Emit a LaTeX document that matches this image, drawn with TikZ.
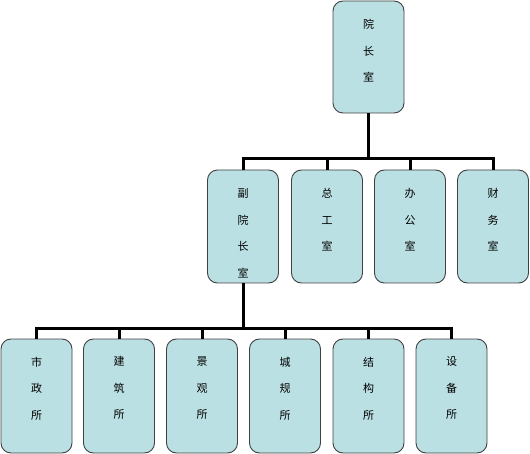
\documentclass[tikz,border=0pt]{standalone}
\usepackage{fontspec}
\newfontfamily\cjk{Noto Sans CJK SC}
\usetikzlibrary{positioning}
\definecolor{boxfill}{RGB}{187,224,227}
\definecolor{boxline}{RGB}{64,64,64}
\tikzset{
  unit/.style={draw=boxline,line width=0.9pt,fill=boxfill,rounded corners=10pt,
    minimum width=71pt,inner sep=0pt},
  unitname/.style={font=\cjk\fontsize{11}{26.5}\selectfont,align=center,inner sep=0pt},
  link/.style={line width=3pt}
}

\begin{document}
\begin{tikzpicture}[x=1pt,y=-1pt]
  \useasboundingbox (0,0) rectangle (530,454);
  % president
  \node[unit,minimum height=112pt] (yz) at (368.5,57) {};
  \node[unitname,below=18.5pt of yz.north] (yzt) {院\\长\\室};
  \coordinate[below=45pt of yz.south] (bus1);
  \draw[link] (yz.south) -- (bus1);
  % second row
  \foreach \n/\cx/\txt in {fyz/243/{副\\院\\长\\室}, zgs/327/{总\\工\\室},
                           bgs/410/{办\\公\\室}, cws/493/{财\\务\\室}}{
    \node[unit,minimum height=113pt] (\n) at (\cx,226.5) {};
    \node[unitname,below=19pt of \n.north] (\n t) {\txt};
    \draw[link] (\n.north) |- (bus1);
  }
  \coordinate[below=45pt of fyz.south] (bus2);
  \draw[link] (fyz.south) -- (bus2);
  % third row
  \foreach \n/\cx/\txt in {szs/36.5/{市\\政\\所}, jzs/119/{建\\筑\\所}, jgs/202/{景\\观\\所},
                           cgs/285/{城\\规\\所}, jgous/368.5/{结\\构\\所}, sbs/451.5/{设\\备\\所}}{
    \node[unit,minimum height=114pt] (\n) at (\cx,396) {};
    \node[unitname,below=18pt of \n.north] (\n t) {\txt};
    \draw[link] (\n.north) |- (bus2);
  }
\end{tikzpicture}
\end{document}
